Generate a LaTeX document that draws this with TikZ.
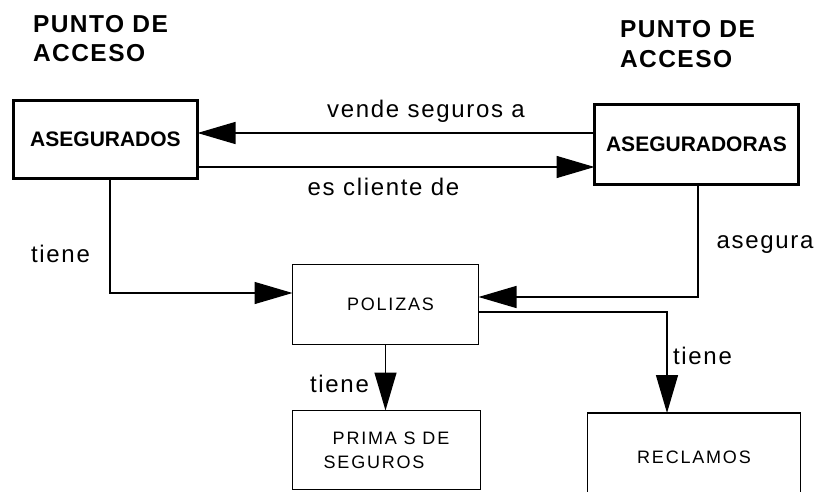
\documentclass[tikz,border=0pt]{standalone}
\usepackage{fontspec}
\setmainfont{Liberation Sans}
\newfontfamily\headfont[LetterSpace=6]{Liberation Sans}
\newfontfamily\lblfont[LetterSpace=7]{Liberation Sans}
\newfontfamily\smallboxfont[LetterSpace=10]{Liberation Sans}
\usetikzlibrary{arrows.meta}
\begin{document}
\begin{tikzpicture}[x=1pt, y=-1pt,
  every node/.style={inner sep=0pt, outer sep=0pt},
  heading/.style={anchor=base west, font=\headfont\bfseries\fontsize{24.5}{28}\selectfont},
  mainbox/.style={draw, line width=3.5pt, font=\bfseries\fontsize{21}{25}\selectfont},
  subbox/.style={draw, line width=1.4pt, font=\smallboxfont\fontsize{18}{24}\selectfont},
  rel/.style={anchor=base, font=\lblfont\fontsize{24}{28}\selectfont},
  arr/.style={draw, line width=1.4pt, -{Triangle[length=38pt,width=22pt]}}]

  \clip (0,0) rectangle (817,492);
  \fill[white] (0,0) rectangle (817,492);

  % headings over the two entry points
  \node[heading] (h1a) at (33,33) {PUNTO DE};
  \node[heading] (h1b) at (33,62) {ACCESO};
  \node[heading] (h2a) at (620,38) {PUNTO DE};
  \node[heading] (h2b) at (620,68) {ACCESO};

  % entities
  \node[mainbox, minimum width=184pt, minimum height=78pt] (dos) at (105.5,139.5) {ASEGURADOS};
  \node[mainbox, minimum width=204pt, minimum height=80pt] (dora) at (696.5,144.5) {ASEGURADORAS};
  \node[subbox, minimum width=186pt, minimum height=80pt] (pol) at (385.5,304.5) {\hspace{10pt}POLIZAS};
  \node[subbox, minimum width=188pt, minimum height=79pt, align=left] (prim) at (386.5,450) {\hspace{9pt}PRIMA S DE\\SEGUROS};
  \node[subbox, minimum width=213pt, minimum height=88pt] (recl) at (694,457) {RECLAMOS};

  % relationships
  \draw[arr] ([yshift=11.5pt]dora.west) -- ([yshift=11.5pt]dora.west -| dos.east);
  \draw[arr] ([yshift=-27.5pt]dos.east) -- ([yshift=-27.5pt]dos.east -| dora.west);
  \draw[arr] ([xshift=4.5pt]dos.south) |- ([yshift=11.5pt]pol.west);
  \draw[arr] ([xshift=1.5pt]dora.south) |- ([yshift=7.5pt]pol.east);
  \draw[arr] (pol.south) -- (pol.south |- prim.north);
  \draw[arr] ([yshift=-7.5pt]pol.east) -| ([xshift=-27pt]recl.north);

  % relationship labels
  \node[rel] (l1) at (426,118) {vende seguros a};
  \node[rel] (l2) at (383.5,196) {es cliente de};
  \node[rel] (l3) at (60.5,262) {tiene};
  \node[rel] (l4) at (765,248) {asegura};
  \node[rel] (l5) at (339.5,392) {tiene};
  \node[rel] (l6) at (702.5,364) {tiene};
\end{tikzpicture}
\end{document}
